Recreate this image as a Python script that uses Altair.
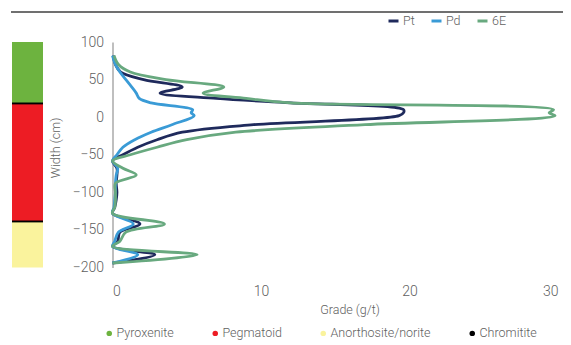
import altair as alt
import pandas as pd

# ---- data ----
widths = [82, 70, 60, 50, 40, 32, 25, 19, 10, 6, 2, -10, -20, -30, -40, -50, -58,
          -68, -77, -88, -100, -110, -120, -128, -142, -153, -165, -172, -183, -194]
pt = [0.05, 0.2, 0.55, 2.1, 4.7, 3.2, 7.0, 12.0, 19.6, 19.6, 19.3, 9.5, 4.7, 3.0, 1.7, 0.7, 0.0,
      0.3, 0.3, 0.25, 0.3, 0.25, 0.15, 0.0, 1.85, 0.5, 0.35, 0.0, 2.85, 0.0]
pd_vals = [0.0, 0.2, 0.5, 0.9, 1.3, 1.6, 1.8, 2.6, 5.4, 5.3, 5.5, 4.0, 2.6, 1.5, 0.7, 0.3, 0.0,
           0.35, 0.25, 0.2, 0.2, 0.15, 0.1, 0.0, 1.4, 0.4, 0.15, 0.0, 1.7, 0.0]
e6 = [0.1, 0.4, 1.2, 3.6, 7.5, 6.1, 9.0, 12.0, 29.7, 29.4, 29.8, 17.0, 8.3, 5.0, 3.0, 1.2, 0.0,
      0.7, 1.6, 0.2, 0.2, 0.2, 0.15, 0.0, 3.5, 0.9, 0.5, 0.0, 5.7, 0.0]

series_names = ["Pt", "Pd", "6E"]
series_colors = ["#1f2a5c", "#3a9bd6", "#68a97f"]

strata_names = ["Pyroxenite", "Pegmatoid", "Anorthosite/norite", "Chromitite", "Chromitite"]
strata_top = [100, 18, -139, 19.5, -137.5]
strata_bottom = [18, -139, -200, 17, -140]
strata_legend = ["Pyroxenite", "Pegmatoid", "Anorthosite/norite", "Chromitite"]
strata_colors = ["#6db33f", "#ed1c24", "#faf39d", "#000000"]

x_ticks = [0, 10, 20, 30]
y_ticks = [-200, -150, -100, -50, 0, 50, 100]

# ---- tables ----
rows = []
for name, vals in zip(series_names, [pt, pd_vals, e6]):
    for i, (w, g) in enumerate(zip(widths, vals)):
        rows.append({"series": name, "width": w, "grade": g, "i": i})
series_df = pd.DataFrame(rows)
strata_df = pd.DataFrame({"name": strata_names, "top": strata_top, "bottom": strata_bottom})

FONT = "Roboto"
TXT = "#5f5f5f"

y_scale = alt.Scale(domain=[-200, 100], nice=False, zero=False)
x_scale = alt.Scale(domain=[0, 30], nice=False)
y_axis = alt.Axis(title="Width (cm)", values=y_ticks, ticks=False, grid=False,
                  domainColor="#bfbfbf", domainWidth=2, labelPadding=9,
                  titlePadding=10, titleY=105.5)

strata = alt.Chart(strata_df).mark_rect().encode(
    x=alt.value(-100.5),
    x2=alt.value(-69.5),
    y=alt.Y("top:Q", scale=y_scale, axis=y_axis),
    y2="bottom:Q",
    fill=alt.Fill("name:N",
                  scale=alt.Scale(domain=strata_legend, range=strata_colors),
                  legend=alt.Legend(orient="none", legendX=-9.5, legendY=285,
                                    direction="horizontal", title=None,
                                    symbolType="circle", symbolSize=30,
                                    symbolStrokeWidth=0, labelOffset=1,
                                    columnPadding=35)),
)

lines = alt.Chart(series_df).mark_line(strokeWidth=2.8, interpolate="catmull-rom").encode(
    x=alt.X("grade:Q", scale=x_scale,
            axis=alt.Axis(title="Grade (g/t)", values=x_ticks, domain=False, ticks=False,
                          grid=False, labelPadding=17, titlePadding=5, titleX=237)),
    y=alt.Y("width:Q", scale=y_scale, axis=y_axis),
    stroke=alt.Stroke("series:N",
                      scale=alt.Scale(domain=series_names, range=series_colors),
                      legend=alt.Legend(orient="none", legendX=274.5, legendY=-27.5,
                                        direction="horizontal", title=None,
                                        symbolType="stroke", symbolSize=100,
                                        symbolStrokeWidth=3, labelOffset=3,
                                        columnPadding=10)),
    order="i:Q",
)

topline = alt.Chart(pd.DataFrame({"a": [0]})).mark_rule(color="#707070", strokeWidth=2).encode(
    x=alt.value(-101.5), x2=alt.value(450.5), y=alt.value(-30)
)

chart = alt.layer(strata, lines, topline).properties(
    width=445.5, height=225.5,
    padding={"left": 104.5, "top": 34, "right": 5, "bottom": 74},
    autosize=alt.AutoSizeParams(type="none"),
).configure_view(stroke=None).configure_axis(
    labelFont=FONT, titleFont=FONT, labelColor=TXT, titleColor=TXT,
    labelFontSize=14, titleFontSize=12.5, titleFontWeight=300, labelFontWeight=300,
).configure_legend(
    labelFont=FONT, labelFontSize=12.5, labelFontWeight=300, labelColor=TXT, padding=0,
)

chart.save("out.html", embed_options={"renderer": "svg", "actions": False})
